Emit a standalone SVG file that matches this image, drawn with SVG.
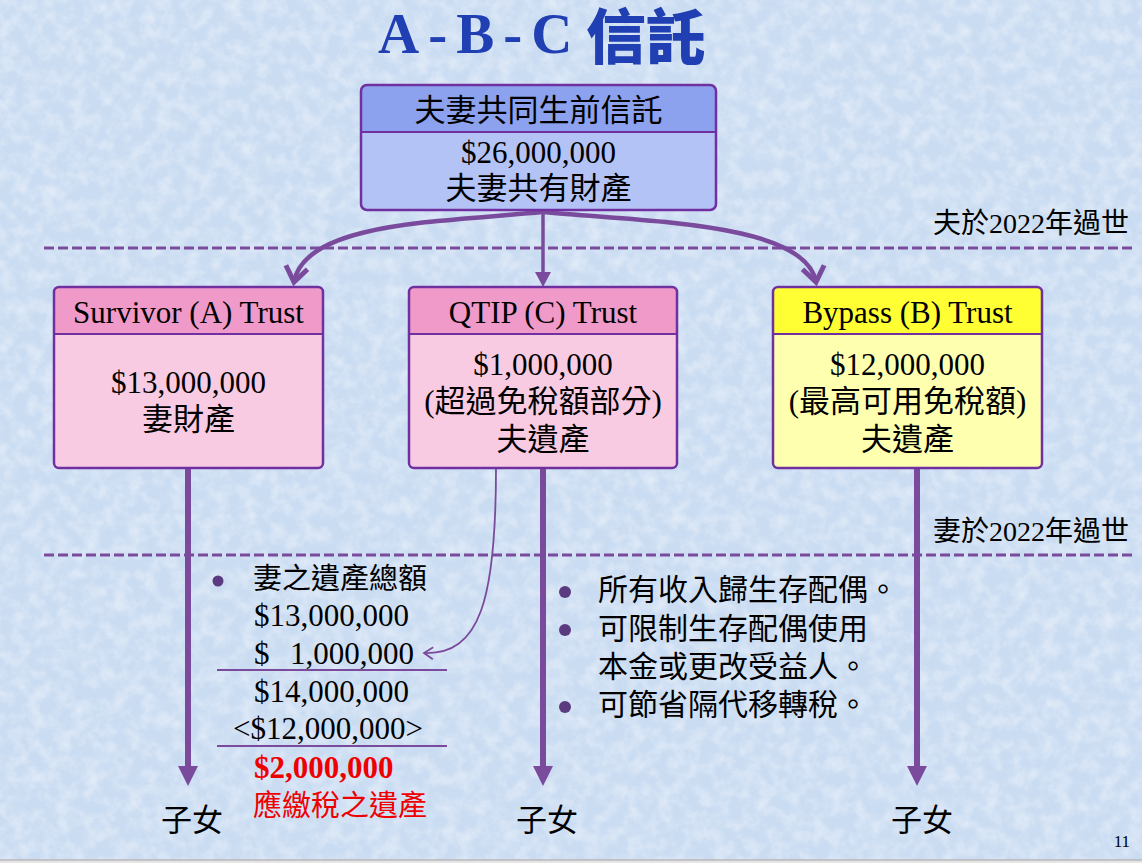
<svg xmlns="http://www.w3.org/2000/svg" width="1142" height="863" viewBox="0 0 1142 863">
<defs>
<style>
.t{font-family:"Liberation Serif","Noto Sans CJK TC",serif;fill:#000;}
.c{text-anchor:middle;}
.box{stroke:#7030a0;stroke-width:2.5;}
.dash{stroke:#7a4b9d;stroke-width:2.8;stroke-dasharray:10 4;fill:none;}
.conn{stroke:#7a4b9d;fill:none;}
.bul{fill:#5b3b80;}
.red{fill:#ee0000;}
</style>
<filter id="tex" x="0" y="0" width="100%" height="100%">
<feTurbulence type="fractalNoise" baseFrequency="0.07" numOctaves="4" seed="7"/>
<feColorMatrix type="matrix" values="0 0 0 0 1  0 0 0 0 1  0 0 0 0 1  1.8 0 0 0 -0.65"/>
</filter>
<marker id="vopen" markerUnits="userSpaceOnUse" markerWidth="30" markerHeight="30" viewBox="-20 -15 30 30" refX="0" refY="0" orient="auto">
<path d="M-15,-11 L0,0 L-15,11" fill="none" stroke="#7a4b9d" stroke-width="5" stroke-linejoin="miter"/>
</marker>
<marker id="vthin" markerUnits="userSpaceOnUse" markerWidth="20" markerHeight="20" viewBox="-12 -10 20 20" refX="0" refY="0" orient="auto">
<path d="M-9,-6 L0,0 L-9,6" fill="none" stroke="#7a4b9d" stroke-width="1.8"/>
</marker>
<marker id="tri" markerUnits="userSpaceOnUse" markerWidth="22" markerHeight="22" viewBox="0 -11 22 22" refX="0" refY="0" orient="auto">
<path d="M0,-10 L20,0 L0,10 z" fill="#7a4b9d"/>
</marker>
<marker id="trism" markerUnits="userSpaceOnUse" markerWidth="18" markerHeight="18" viewBox="0 -9 18 18" refX="0" refY="0" orient="auto">
<path d="M0,-8 L15,0 L0,8 z" fill="#7a4b9d"/>
</marker>
</defs>

<g id="background">
<rect x="0" y="0" width="1142" height="863" fill="#cadcf2"/>
<rect x="0" y="0" width="1142" height="860" filter="url(#tex)" opacity="0.45"/>
<rect x="0" y="860" width="1142" height="3" fill="#e6e6e6"/>
<line x1="0" y1="860" x2="1142" y2="860" stroke="#b8b8b8" stroke-width="1.5"/>
</g>

<g id="title">
<text x="378" y="53" font-family="Liberation Serif, serif" font-weight="bold" font-size="57" fill="#1f3fb3" letter-spacing="9">A-B-C</text>
<text x="586" y="59" font-family="Noto Sans CJK TC, sans-serif" font-weight="900" font-size="60" fill="#1f3fb3">信託</text>
</g>

<g id="dividers">
<line class="dash" x1="44" y1="248" x2="1132" y2="248"/>
<line class="dash" x1="44" y1="555" x2="1132" y2="555"/>
<text class="t" x="1129" y="233" font-size="28" text-anchor="end">夫於2022年過世</text>
<text class="t" x="1129" y="541" font-size="28" text-anchor="end">妻於2022年過世</text>
</g>

<g id="connectors">
<path class="conn" stroke-width="4.5" d="M542,212 C 440,222 305,222 294,282" marker-end="url(#vopen)"/>
<path class="conn" stroke-width="4.5" d="M544,212 C 646,222 805,222 816,282" marker-end="url(#vopen)"/>
<path class="conn" stroke-width="3.5" d="M543,210 L543,272" marker-end="url(#trism)"/>
<path class="conn" stroke-width="6" d="M188,468 L188,766" marker-end="url(#tri)"/>
<path class="conn" stroke-width="6" d="M543,468 L543,766" marker-end="url(#tri)"/>
<path class="conn" stroke-width="6" d="M917,468 L917,766" marker-end="url(#tri)"/>
<path class="conn" stroke-width="1.8" d="M496,468 C 496,600 480,655 424,653" marker-end="url(#vthin)"/>
</g>

<g id="joint-trust">
<rect x="361" y="85" width="355" height="125" rx="6" fill="#b4c3f5"/>
<path d="M361,132 L361,91 Q361,85 367,85 L710,85 Q716,85 716,91 L716,132 Z" fill="#8da2ee"/>
<rect x="361" y="85" width="355" height="125" rx="6" fill="none" class="box"/>
<line x1="361" y1="132" x2="716" y2="132" stroke="#7030a0" stroke-width="2"/>
<text class="t c" x="538.5" y="121" font-size="31">夫妻共同生前信託</text>
<text class="t c" x="538.5" y="163" font-size="31">$26,000,000</text>
<text class="t c" x="538.5" y="199" font-size="31">夫妻共有財產</text>
</g>

<g id="survivor-trust">
<rect x="54" y="287" width="269" height="181" rx="5" fill="#f8cbe2"/>
<path d="M54,334 L54,292 Q54,287 59,287 L318,287 Q323,287 323,292 L323,334 Z" fill="#ef9ac8"/>
<rect class="box" x="54" y="287" width="269" height="181" rx="5" fill="none"/>
<line x1="54" y1="334" x2="323" y2="334" stroke="#7030a0" stroke-width="2"/>
<text class="t c" x="188.5" y="323" font-size="31">Survivor (A) Trust</text>
<text class="t c" x="188.5" y="393" font-size="31">$13,000,000</text>
<text class="t c" x="188.5" y="430" font-size="31">妻財產</text>
</g>

<g id="qtip-trust">
<rect x="409" y="287" width="268" height="181" rx="5" fill="#f8cbe2"/>
<path d="M409,334 L409,292 Q409,287 414,287 L672,287 Q677,287 677,292 L677,334 Z" fill="#ef9ac8"/>
<rect class="box" x="409" y="287" width="268" height="181" rx="5" fill="none"/>
<line x1="409" y1="334" x2="677" y2="334" stroke="#7030a0" stroke-width="2"/>
<text class="t c" x="543" y="323" font-size="31">QTIP (C) Trust</text>
<text class="t c" x="543" y="375" font-size="31">$1,000,000</text>
<text class="t c" x="543" y="412" font-size="31">(超過免稅額部分)</text>
<text class="t c" x="543" y="450" font-size="31">夫遺產</text>
</g>

<g id="bypass-trust">
<rect x="773" y="287" width="269" height="181" rx="5" fill="#ffffb0"/>
<path d="M773,334 L773,292 Q773,287 778,287 L1037,287 Q1042,287 1042,292 L1042,334 Z" fill="#ffff33"/>
<rect class="box" x="773" y="287" width="269" height="181" rx="5" fill="none"/>
<line x1="773" y1="334" x2="1042" y2="334" stroke="#7030a0" stroke-width="2"/>
<text class="t c" x="907.5" y="323" font-size="31">Bypass (B) Trust</text>
<text class="t c" x="907.5" y="375" font-size="31">$12,000,000</text>
<text class="t c" x="907.5" y="412" font-size="31">(最高可用免稅額)</text>
<text class="t c" x="907.5" y="450" font-size="31">夫遺產</text>
</g>

<g id="wife-estate-calc">
<circle class="bul" cx="218" cy="581" r="5.5"/>
<text class="t" x="253" y="589" font-size="29">妻之遺產總額</text>
<text class="t" x="254" y="626" font-size="31">$13,000,000</text>
<text class="t" x="254" y="664" font-size="31">$</text>
<text class="t" x="290" y="664" font-size="31">1,000,000</text>
<line x1="217" y1="670" x2="447" y2="670" stroke="#7a4b9d" stroke-width="2"/>
<text class="t" x="254" y="702" font-size="31">$14,000,000</text>
<text class="t" x="233" y="739" font-size="31">&lt;$12,000,000&gt;</text>
<line x1="217" y1="746" x2="447" y2="746" stroke="#7a4b9d" stroke-width="2"/>
<text class="t red" x="254" y="778" font-size="31" font-weight="bold">$2,000,000</text>
<text class="t red" x="253" y="816" font-size="29">應繳稅之遺產</text>
</g>

<g id="qtip-notes">
<circle class="bul" cx="565" cy="592" r="6"/>
<circle class="bul" cx="565" cy="630" r="6"/>
<circle class="bul" cx="565" cy="707" r="6"/>
<text class="t" x="598" y="600" font-size="30">所有收入歸生存配偶。</text>
<text class="t" x="598" y="639" font-size="30">可限制生存配偶使用</text>
<text class="t" x="598" y="677" font-size="30">本金或更改受益人。</text>
<text class="t" x="598" y="715" font-size="30">可節省隔代移轉稅。</text>
</g>

<g id="children">
<text class="t c" x="192" y="831" font-size="31">子女</text>
<text class="t c" x="547" y="831" font-size="31">子女</text>
<text class="t c" x="922" y="831" font-size="31">子女</text>
</g>

<text class="t" x="1130" y="847" font-size="17" text-anchor="end">11</text>
</svg>
